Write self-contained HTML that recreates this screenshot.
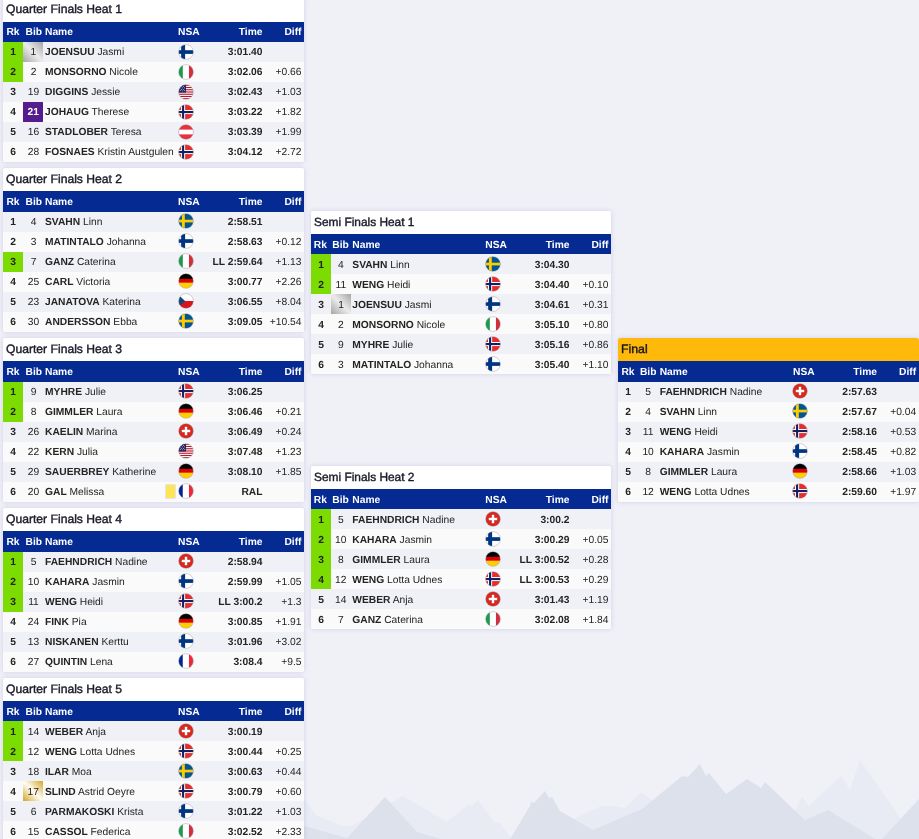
<!DOCTYPE html>
<html lang="en"><head><meta charset="utf-8"><title>Sprint Finals</title>
<style>
html,body{margin:0;padding:0}
body{width:919px;height:839px;overflow:hidden;position:relative;background:#f0f1f7;font-family:"Liberation Sans",Arial,sans-serif;font-size:10.25px;letter-spacing:0px;text-rendering:geometricPrecision;color:#242424}
.card{position:absolute;width:301px;background:#fff;border-radius:2px;box-shadow:0 0 5px rgba(125,125,195,.3);overflow:hidden;z-index:2}
.ttl{font-size:12.15px;letter-spacing:0;-webkit-text-stroke:.4px #1a1a2a;padding-left:3px;color:#1a1a2a;white-space:nowrap}
.lh22 .ttl{line-height:22px}
.lh23 .ttl{line-height:23px}
.semi{width:300px}
.semi .ttl{font-size:11.9px}
.final .ttl{font-size:12.3px}

.semi .nm{left:41.3px}
.semi .row .nsa{left:174.4px}
.semi .hd .nsa{left:174.3px}
.semi .bib{left:19.8px}
.semi .hd .bib{left:17.6px}
.semi .hd .rk{left:-.7px}
.semi .bib.silver{left:20px;padding-left:0}
.final .nm{left:41.7px}
.final .row .nsa{left:174.3px}
.final .bib{left:20.1px}
.final .hd .bib{left:18.2px}
.final .tm{right:42px}
.final .df{right:2.9px}
.final .ttl{background:#ffb90a;color:#111}
.hd{background:#052b93;color:#fff;font-weight:bold;font-size:10.25px;position:relative;white-space:nowrap}
.row{height:20px;line-height:var(--rl);position:relative;white-space:nowrap;background:#fafafa}
.row:nth-child(odd){background:#f0f1f7}
.row span,.hd span{position:absolute;top:0;height:100%}
.rk{left:0;width:20px;text-align:center;font-weight:bold}
.rk.q{background:#7cdb00}
.bib{left:20.5px;width:20px;text-align:center}
.hd .bib{left:18.75px;width:24px}
.bib.purple,.bib.silver,.bib.gold{left:20px;padding-left:.5px;box-sizing:border-box}
.bib.purple{background:#551c8e;color:#fff;font-weight:bold}
.bib.silver{background:linear-gradient(45deg,#a4a4a4 0%,#ececec 50%,#a4a4a4 100%)}
.bib.gold{background:linear-gradient(45deg,#d2a527 0%,#fffdf4 50%,#d2a527 100%)}
.nm{left:42px}
.nsa{left:175px;width:16px}
.row .nsa{left:175px;width:16px;top:var(--ft);height:16px;line-height:0}
.fl{width:16px;height:16px;display:block}
.tm{right:41.5px;font-weight:bold;text-align:right}
.df{right:2.5px;text-align:right}
.yc{position:absolute;left:162.9px;top:2.8px;width:9.4px;height:13.3px;background:#ffe455;box-shadow:0 0 0 .6px #d6d6e3}
</style></head><body>

<svg class="mt" width="919" height="839" viewBox="0 0 919 839" style="position:absolute;left:0;top:0">
<g fill="#e8ebf3">
<path d="M304 799 L316.5 815.6 L342.7 826 L352 826 L402.8 796 L446.5 821.5 L468.6 805 L472 806 L477.7 799.7 L495.6 823.6 L499 822.6 L512.5 839 L304 839Z"/>
<path d="M555 828 L573 819.3 L602 805.8 L610 805.6 L625 808 L641 792.8 L652 800 L670 839 L555 839Z"/>
<path d="M780 839 L802 797 L809 806 L841 776 L850 790 L860 760 L905 825 L919 839Z"/>
</g>
<g fill="#dde1ec">
<path d="M304 826 L347 838 L385 797 L417 832 L440 839 L304 839Z"/>
<path d="M510 839 L530 806 L531 802 L534 803 L545 791 L549 798 L552 797 L560 811 L593 830 L642 809 L682 776 L688 777 L700 764 L706 776 L709 773 L726 794 L747 779 L761 788 L765 782 L805 820 L828 810 L875 839Z"/>
<path d="M882 839 L919 799 L919 839Z"/>
</g>
</svg>


<svg width="0" height="0" style="position:absolute">
<defs>
<clipPath id="cc"><circle cx="8" cy="8" r="7.3"/></clipPath>
<g id="f-FIN" clip-path="url(#cc)"><rect width="16" height="16" fill="#fff"/><rect x="3.15" width="3.95" height="16" fill="#003580"/><rect y="6.2" width="16" height="3.7" fill="#003580"/></g>
<g id="f-SWE" clip-path="url(#cc)"><rect width="16" height="16" fill="#005596"/><rect x="3.9" width="2.9" height="16" fill="#fecc00"/><rect y="6.7" width="16" height="2.7" fill="#fecc00"/></g>
<g id="f-NOR" clip-path="url(#cc)"><rect width="16" height="16" fill="#e82b2b"/><rect x="3.05" width="4.1" height="16" fill="#fff"/><rect y="6" width="16" height="4.1" fill="#fff"/><rect x="4.05" width="2.1" height="16" fill="#0c2264"/><rect y="7" width="16" height="2.1" fill="#0c2264"/></g>
<g id="f-ITA" clip-path="url(#cc)"><rect width="16" height="16" fill="#fff"/><rect width="4.8" height="16" fill="#1a9a4a"/><rect x="10.95" width="5.2" height="16" fill="#d22f3c"/></g>
<g id="f-FRA" clip-path="url(#cc)"><rect width="16" height="16" fill="#fff"/><rect width="4.75" height="16" fill="#002395"/><rect x="10.95" width="5.2" height="16" fill="#ed2939"/></g>
<g id="f-GER" clip-path="url(#cc)"><rect width="16" height="6.2" fill="#000"/><rect y="9.4" width="16" height="6.6" fill="#ffce00"/><rect y="5.85" width="16" height="3.85" fill="#dd0000"/></g>
<g id="f-AUT" clip-path="url(#cc)"><rect width="16" height="16" fill="#e8323a"/><rect y="5.6" width="16" height="4.8" fill="#fff"/></g>
<g id="f-SUI" clip-path="url(#cc)"><rect width="16" height="16" fill="#d5281f"/><rect x="6.8" y="3.8" width="2.4" height="8.4" fill="#fff"/><rect x="3.8" y="6.8" width="8.4" height="2.4" fill="#fff"/></g>
<g id="f-CZE" clip-path="url(#cc)"><rect width="16" height="8" fill="#fff"/><rect y="8" width="16" height="8" fill="#d7141a"/><path d="M-1 0.6 L7.1 8 L-1 15.4Z" fill="#11457e"/></g>
<g id="f-USA" clip-path="url(#cc)"><rect width="16" height="16" fill="#fff"/><g fill="#b5172b"><rect y="0.70" width="16" height="1.12"/><rect y="2.95" width="16" height="1.12"/><rect y="5.19" width="16" height="1.12"/><rect y="7.44" width="16" height="1.12"/><rect y="9.68" width="16" height="1.12"/><rect y="11.93" width="16" height="1.12"/><rect y="14.18" width="16" height="1.12"/></g><rect width="8" height="8.56" fill="#232763"/><g fill="#fff"><rect x="3.25" y="2.05" width=".7" height=".7"/><rect x="5.25" y="2.05" width=".7" height=".7"/><rect x="4.25" y="3.55" width=".7" height=".7"/><rect x="2.25" y="3.55" width=".7" height=".7"/><rect x="3.25" y="5.05" width=".7" height=".7"/><rect x="5.25" y="5.05" width=".7" height=".7"/><rect x="2.25" y="6.25" width=".7" height=".7"/><rect x="4.25" y="6.45" width=".7" height=".7"/><rect x="6.25" y="3.55" width=".7" height=".7"/><rect x="6.25" y="6.25" width=".7" height=".7"/></g></g>
</defs>
</svg>

<div class="card lh22" style="left:3px;top:-2px;--rl:22px;--ft:1.9px">
<div class="ttl" style="height:24px">Quarter Finals Heat 1</div>
<div class="hd" style="height:20px;line-height:21px"><span class="rk">Rk</span><span class="bib">Bib</span><span class="nm">Name</span><span class="nsa">NSA</span><span class="tm">Time</span><span class="df">Diff</span></div>
<div class="row"><span class="rk q">1</span><span class="bib silver">1</span><span class="nm"><b>JOENSUU</b> Jasmi</span><span class="nsa"><svg class="fl" viewBox="0 0 16 16"><use href="#f-FIN"/><circle cx="8" cy="8" r="7.4" fill="none" stroke="rgba(150,152,160,.6)" stroke-width=".7"/></svg></span><span class="tm">3:01.40</span><span class="df"></span></div>
<div class="row"><span class="rk q">2</span><span class="bib">2</span><span class="nm"><b>MONSORNO</b> Nicole</span><span class="nsa"><svg class="fl" viewBox="0 0 16 16"><use href="#f-ITA"/><circle cx="8" cy="8" r="7.4" fill="none" stroke="rgba(150,152,160,.6)" stroke-width=".7"/></svg></span><span class="tm">3:02.06</span><span class="df">+0.66</span></div>
<div class="row"><span class="rk">3</span><span class="bib">19</span><span class="nm"><b>DIGGINS</b> Jessie</span><span class="nsa"><svg class="fl" viewBox="0 0 16 16"><use href="#f-USA"/><circle cx="8" cy="8" r="7.4" fill="none" stroke="rgba(150,152,160,.6)" stroke-width=".7"/></svg></span><span class="tm">3:02.43</span><span class="df">+1.03</span></div>
<div class="row"><span class="rk">4</span><span class="bib purple">21</span><span class="nm"><b>JOHAUG</b> Therese</span><span class="nsa"><svg class="fl" viewBox="0 0 16 16"><use href="#f-NOR"/><circle cx="8" cy="8" r="7.4" fill="none" stroke="rgba(150,152,160,.6)" stroke-width=".7"/></svg></span><span class="tm">3:03.22</span><span class="df">+1.82</span></div>
<div class="row"><span class="rk">5</span><span class="bib">16</span><span class="nm"><b>STADLOBER</b> Teresa</span><span class="nsa"><svg class="fl" viewBox="0 0 16 16"><use href="#f-AUT"/><circle cx="8" cy="8" r="7.4" fill="none" stroke="rgba(150,152,160,.6)" stroke-width=".7"/></svg></span><span class="tm">3:03.39</span><span class="df">+1.99</span></div>
<div class="row"><span class="rk">6</span><span class="bib">28</span><span class="nm"><b>FOSNAES</b> Kristin Austgulen</span><span class="nsa"><svg class="fl" viewBox="0 0 16 16"><use href="#f-NOR"/><circle cx="8" cy="8" r="7.4" fill="none" stroke="rgba(150,152,160,.6)" stroke-width=".7"/></svg></span><span class="tm">3:04.12</span><span class="df">+2.72</span></div>
</div>
<div class="card lh22" style="left:3px;top:168px;--rl:22px;--ft:0.9px">
<div class="ttl" style="height:23px">Quarter Finals Heat 2</div>
<div class="hd" style="height:21px;line-height:24px"><span class="rk">Rk</span><span class="bib">Bib</span><span class="nm">Name</span><span class="nsa">NSA</span><span class="tm">Time</span><span class="df">Diff</span></div>
<div class="row"><span class="rk">1</span><span class="bib">4</span><span class="nm"><b>SVAHN</b> Linn</span><span class="nsa"><svg class="fl" viewBox="0 0 16 16"><use href="#f-SWE"/><circle cx="8" cy="8" r="7.4" fill="none" stroke="rgba(150,152,160,.6)" stroke-width=".7"/></svg></span><span class="tm">2:58.51</span><span class="df"></span></div>
<div class="row"><span class="rk">2</span><span class="bib">3</span><span class="nm"><b>MATINTALO</b> Johanna</span><span class="nsa"><svg class="fl" viewBox="0 0 16 16"><use href="#f-FIN"/><circle cx="8" cy="8" r="7.4" fill="none" stroke="rgba(150,152,160,.6)" stroke-width=".7"/></svg></span><span class="tm">2:58.63</span><span class="df">+0.12</span></div>
<div class="row"><span class="rk q">3</span><span class="bib">7</span><span class="nm"><b>GANZ</b> Caterina</span><span class="nsa"><svg class="fl" viewBox="0 0 16 16"><use href="#f-ITA"/><circle cx="8" cy="8" r="7.4" fill="none" stroke="rgba(150,152,160,.6)" stroke-width=".7"/></svg></span><span class="tm">LL 2:59.64</span><span class="df">+1.13</span></div>
<div class="row"><span class="rk">4</span><span class="bib">25</span><span class="nm"><b>CARL</b> Victoria</span><span class="nsa"><svg class="fl" viewBox="0 0 16 16"><use href="#f-GER"/><circle cx="8" cy="8" r="7.4" fill="none" stroke="rgba(150,152,160,.6)" stroke-width=".7"/></svg></span><span class="tm">3:00.77</span><span class="df">+2.26</span></div>
<div class="row"><span class="rk">5</span><span class="bib">23</span><span class="nm"><b>JANATOVA</b> Katerina</span><span class="nsa"><svg class="fl" viewBox="0 0 16 16"><use href="#f-CZE"/><circle cx="8" cy="8" r="7.4" fill="none" stroke="rgba(150,152,160,.6)" stroke-width=".7"/></svg></span><span class="tm">3:06.55</span><span class="df">+8.04</span></div>
<div class="row"><span class="rk">6</span><span class="bib">30</span><span class="nm"><b>ANDERSSON</b> Ebba</span><span class="nsa"><svg class="fl" viewBox="0 0 16 16"><use href="#f-SWE"/><circle cx="8" cy="8" r="7.4" fill="none" stroke="rgba(150,152,160,.6)" stroke-width=".7"/></svg></span><span class="tm">3:09.05</span><span class="df">+10.54</span></div>
</div>
<div class="card lh22" style="left:3px;top:338px;--rl:22px;--ft:1.0px">
<div class="ttl" style="height:23px">Quarter Finals Heat 3</div>
<div class="hd" style="height:21px;line-height:24px"><span class="rk">Rk</span><span class="bib">Bib</span><span class="nm">Name</span><span class="nsa">NSA</span><span class="tm">Time</span><span class="df">Diff</span></div>
<div class="row"><span class="rk q">1</span><span class="bib">9</span><span class="nm"><b>MYHRE</b> Julie</span><span class="nsa"><svg class="fl" viewBox="0 0 16 16"><use href="#f-NOR"/><circle cx="8" cy="8" r="7.4" fill="none" stroke="rgba(150,152,160,.6)" stroke-width=".7"/></svg></span><span class="tm">3:06.25</span><span class="df"></span></div>
<div class="row"><span class="rk q">2</span><span class="bib">8</span><span class="nm"><b>GIMMLER</b> Laura</span><span class="nsa"><svg class="fl" viewBox="0 0 16 16"><use href="#f-GER"/><circle cx="8" cy="8" r="7.4" fill="none" stroke="rgba(150,152,160,.6)" stroke-width=".7"/></svg></span><span class="tm">3:06.46</span><span class="df">+0.21</span></div>
<div class="row"><span class="rk">3</span><span class="bib">26</span><span class="nm"><b>KAELIN</b> Marina</span><span class="nsa"><svg class="fl" viewBox="0 0 16 16"><use href="#f-SUI"/><circle cx="8" cy="8" r="7.4" fill="none" stroke="rgba(150,152,160,.6)" stroke-width=".7"/></svg></span><span class="tm">3:06.49</span><span class="df">+0.24</span></div>
<div class="row"><span class="rk">4</span><span class="bib">22</span><span class="nm"><b>KERN</b> Julia</span><span class="nsa"><svg class="fl" viewBox="0 0 16 16"><use href="#f-USA"/><circle cx="8" cy="8" r="7.4" fill="none" stroke="rgba(150,152,160,.6)" stroke-width=".7"/></svg></span><span class="tm">3:07.48</span><span class="df">+1.23</span></div>
<div class="row"><span class="rk">5</span><span class="bib">29</span><span class="nm"><b>SAUERBREY</b> Katherine</span><span class="nsa"><svg class="fl" viewBox="0 0 16 16"><use href="#f-GER"/><circle cx="8" cy="8" r="7.4" fill="none" stroke="rgba(150,152,160,.6)" stroke-width=".7"/></svg></span><span class="tm">3:08.10</span><span class="df">+1.85</span></div>
<div class="row"><span class="rk">6</span><span class="bib">20</span><span class="nm"><b>GAL</b> Melissa</span><i class="yc"></i><span class="nsa"><svg class="fl" viewBox="0 0 16 16"><use href="#f-FRA"/><circle cx="8" cy="8" r="7.4" fill="none" stroke="rgba(150,152,160,.6)" stroke-width=".7"/></svg></span><span class="tm">RAL</span><span class="df"></span></div>
</div>
<div class="card lh22" style="left:3px;top:508px;--rl:22px;--ft:1.1px">
<div class="ttl" style="height:23px">Quarter Finals Heat 4</div>
<div class="hd" style="height:21px;line-height:23px"><span class="rk">Rk</span><span class="bib">Bib</span><span class="nm">Name</span><span class="nsa">NSA</span><span class="tm">Time</span><span class="df">Diff</span></div>
<div class="row"><span class="rk q">1</span><span class="bib">5</span><span class="nm"><b>FAEHNDRICH</b> Nadine</span><span class="nsa"><svg class="fl" viewBox="0 0 16 16"><use href="#f-SUI"/><circle cx="8" cy="8" r="7.4" fill="none" stroke="rgba(150,152,160,.6)" stroke-width=".7"/></svg></span><span class="tm">2:58.94</span><span class="df"></span></div>
<div class="row"><span class="rk q">2</span><span class="bib">10</span><span class="nm"><b>KAHARA</b> Jasmin</span><span class="nsa"><svg class="fl" viewBox="0 0 16 16"><use href="#f-FIN"/><circle cx="8" cy="8" r="7.4" fill="none" stroke="rgba(150,152,160,.6)" stroke-width=".7"/></svg></span><span class="tm">2:59.99</span><span class="df">+1.05</span></div>
<div class="row"><span class="rk q">3</span><span class="bib">11</span><span class="nm"><b>WENG</b> Heidi</span><span class="nsa"><svg class="fl" viewBox="0 0 16 16"><use href="#f-NOR"/><circle cx="8" cy="8" r="7.4" fill="none" stroke="rgba(150,152,160,.6)" stroke-width=".7"/></svg></span><span class="tm">LL 3:00.2</span><span class="df">+1.3</span></div>
<div class="row"><span class="rk">4</span><span class="bib">24</span><span class="nm"><b>FINK</b> Pia</span><span class="nsa"><svg class="fl" viewBox="0 0 16 16"><use href="#f-GER"/><circle cx="8" cy="8" r="7.4" fill="none" stroke="rgba(150,152,160,.6)" stroke-width=".7"/></svg></span><span class="tm">3:00.85</span><span class="df">+1.91</span></div>
<div class="row"><span class="rk">5</span><span class="bib">13</span><span class="nm"><b>NISKANEN</b> Kerttu</span><span class="nsa"><svg class="fl" viewBox="0 0 16 16"><use href="#f-FIN"/><circle cx="8" cy="8" r="7.4" fill="none" stroke="rgba(150,152,160,.6)" stroke-width=".7"/></svg></span><span class="tm">3:01.96</span><span class="df">+3.02</span></div>
<div class="row"><span class="rk">6</span><span class="bib">27</span><span class="nm"><b>QUINTIN</b> Lena</span><span class="nsa"><svg class="fl" viewBox="0 0 16 16"><use href="#f-FRA"/><circle cx="8" cy="8" r="7.4" fill="none" stroke="rgba(150,152,160,.6)" stroke-width=".7"/></svg></span><span class="tm">3:08.4</span><span class="df">+9.5</span></div>
</div>
<div class="card lh22" style="left:3px;top:678px;--rl:24px;--ft:2.0px">
<div class="ttl" style="height:23px">Quarter Finals Heat 5</div>
<div class="hd" style="height:20px;line-height:23px"><span class="rk">Rk</span><span class="bib">Bib</span><span class="nm">Name</span><span class="nsa">NSA</span><span class="tm">Time</span><span class="df">Diff</span></div>
<div class="row"><span class="rk q">1</span><span class="bib">14</span><span class="nm"><b>WEBER</b> Anja</span><span class="nsa"><svg class="fl" viewBox="0 0 16 16"><use href="#f-SUI"/><circle cx="8" cy="8" r="7.4" fill="none" stroke="rgba(150,152,160,.6)" stroke-width=".7"/></svg></span><span class="tm">3:00.19</span><span class="df"></span></div>
<div class="row"><span class="rk q">2</span><span class="bib">12</span><span class="nm"><b>WENG</b> Lotta Udnes</span><span class="nsa"><svg class="fl" viewBox="0 0 16 16"><use href="#f-NOR"/><circle cx="8" cy="8" r="7.4" fill="none" stroke="rgba(150,152,160,.6)" stroke-width=".7"/></svg></span><span class="tm">3:00.44</span><span class="df">+0.25</span></div>
<div class="row"><span class="rk">3</span><span class="bib">18</span><span class="nm"><b>ILAR</b> Moa</span><span class="nsa"><svg class="fl" viewBox="0 0 16 16"><use href="#f-SWE"/><circle cx="8" cy="8" r="7.4" fill="none" stroke="rgba(150,152,160,.6)" stroke-width=".7"/></svg></span><span class="tm">3:00.63</span><span class="df">+0.44</span></div>
<div class="row"><span class="rk">4</span><span class="bib gold">17</span><span class="nm"><b>SLIND</b> Astrid Oeyre</span><span class="nsa"><svg class="fl" viewBox="0 0 16 16"><use href="#f-NOR"/><circle cx="8" cy="8" r="7.4" fill="none" stroke="rgba(150,152,160,.6)" stroke-width=".7"/></svg></span><span class="tm">3:00.79</span><span class="df">+0.60</span></div>
<div class="row"><span class="rk">5</span><span class="bib">6</span><span class="nm"><b>PARMAKOSKI</b> Krista</span><span class="nsa"><svg class="fl" viewBox="0 0 16 16"><use href="#f-FIN"/><circle cx="8" cy="8" r="7.4" fill="none" stroke="rgba(150,152,160,.6)" stroke-width=".7"/></svg></span><span class="tm">3:01.22</span><span class="df">+1.03</span></div>
<div class="row"><span class="rk">6</span><span class="bib">15</span><span class="nm"><b>CASSOL</b> Federica</span><span class="nsa"><svg class="fl" viewBox="0 0 16 16"><use href="#f-ITA"/><circle cx="8" cy="8" r="7.4" fill="none" stroke="rgba(150,152,160,.6)" stroke-width=".7"/></svg></span><span class="tm">3:02.52</span><span class="df">+2.33</span></div>
</div>
<div class="card semi lh23" style="left:311px;top:211px;--rl:24px;--ft:1.8px">
<div class="ttl" style="height:23px">Semi Finals Heat 1</div>
<div class="hd" style="height:20px;line-height:23px"><span class="rk">Rk</span><span class="bib">Bib</span><span class="nm">Name</span><span class="nsa">NSA</span><span class="tm">Time</span><span class="df">Diff</span></div>
<div class="row"><span class="rk q">1</span><span class="bib">4</span><span class="nm"><b>SVAHN</b> Linn</span><span class="nsa"><svg class="fl" viewBox="0 0 16 16"><use href="#f-SWE"/><circle cx="8" cy="8" r="7.4" fill="none" stroke="rgba(150,152,160,.6)" stroke-width=".7"/></svg></span><span class="tm">3:04.30</span><span class="df"></span></div>
<div class="row"><span class="rk q">2</span><span class="bib">11</span><span class="nm"><b>WENG</b> Heidi</span><span class="nsa"><svg class="fl" viewBox="0 0 16 16"><use href="#f-NOR"/><circle cx="8" cy="8" r="7.4" fill="none" stroke="rgba(150,152,160,.6)" stroke-width=".7"/></svg></span><span class="tm">3:04.40</span><span class="df">+0.10</span></div>
<div class="row"><span class="rk">3</span><span class="bib silver">1</span><span class="nm"><b>JOENSUU</b> Jasmi</span><span class="nsa"><svg class="fl" viewBox="0 0 16 16"><use href="#f-FIN"/><circle cx="8" cy="8" r="7.4" fill="none" stroke="rgba(150,152,160,.6)" stroke-width=".7"/></svg></span><span class="tm">3:04.61</span><span class="df">+0.31</span></div>
<div class="row"><span class="rk">4</span><span class="bib">2</span><span class="nm"><b>MONSORNO</b> Nicole</span><span class="nsa"><svg class="fl" viewBox="0 0 16 16"><use href="#f-ITA"/><circle cx="8" cy="8" r="7.4" fill="none" stroke="rgba(150,152,160,.6)" stroke-width=".7"/></svg></span><span class="tm">3:05.10</span><span class="df">+0.80</span></div>
<div class="row"><span class="rk">5</span><span class="bib">9</span><span class="nm"><b>MYHRE</b> Julie</span><span class="nsa"><svg class="fl" viewBox="0 0 16 16"><use href="#f-NOR"/><circle cx="8" cy="8" r="7.4" fill="none" stroke="rgba(150,152,160,.6)" stroke-width=".7"/></svg></span><span class="tm">3:05.16</span><span class="df">+0.86</span></div>
<div class="row"><span class="rk">6</span><span class="bib">3</span><span class="nm"><b>MATINTALO</b> Johanna</span><span class="nsa"><svg class="fl" viewBox="0 0 16 16"><use href="#f-FIN"/><circle cx="8" cy="8" r="7.4" fill="none" stroke="rgba(150,152,160,.6)" stroke-width=".7"/></svg></span><span class="tm">3:05.40</span><span class="df">+1.10</span></div>
</div>
<div class="card semi lh23" style="left:311px;top:466px;--rl:24px;--ft:1.8px">
<div class="ttl" style="height:23px">Semi Finals Heat 2</div>
<div class="hd" style="height:20px;line-height:23px"><span class="rk">Rk</span><span class="bib">Bib</span><span class="nm">Name</span><span class="nsa">NSA</span><span class="tm">Time</span><span class="df">Diff</span></div>
<div class="row"><span class="rk q">1</span><span class="bib">5</span><span class="nm"><b>FAEHNDRICH</b> Nadine</span><span class="nsa"><svg class="fl" viewBox="0 0 16 16"><use href="#f-SUI"/><circle cx="8" cy="8" r="7.4" fill="none" stroke="rgba(150,152,160,.6)" stroke-width=".7"/></svg></span><span class="tm">3:00.2</span><span class="df"></span></div>
<div class="row"><span class="rk q">2</span><span class="bib">10</span><span class="nm"><b>KAHARA</b> Jasmin</span><span class="nsa"><svg class="fl" viewBox="0 0 16 16"><use href="#f-FIN"/><circle cx="8" cy="8" r="7.4" fill="none" stroke="rgba(150,152,160,.6)" stroke-width=".7"/></svg></span><span class="tm">3:00.29</span><span class="df">+0.05</span></div>
<div class="row"><span class="rk q">3</span><span class="bib">8</span><span class="nm"><b>GIMMLER</b> Laura</span><span class="nsa"><svg class="fl" viewBox="0 0 16 16"><use href="#f-GER"/><circle cx="8" cy="8" r="7.4" fill="none" stroke="rgba(150,152,160,.6)" stroke-width=".7"/></svg></span><span class="tm">LL 3:00.52</span><span class="df">+0.28</span></div>
<div class="row"><span class="rk q">4</span><span class="bib">12</span><span class="nm"><b>WENG</b> Lotta Udnes</span><span class="nsa"><svg class="fl" viewBox="0 0 16 16"><use href="#f-NOR"/><circle cx="8" cy="8" r="7.4" fill="none" stroke="rgba(150,152,160,.6)" stroke-width=".7"/></svg></span><span class="tm">LL 3:00.53</span><span class="df">+0.29</span></div>
<div class="row"><span class="rk">5</span><span class="bib">14</span><span class="nm"><b>WEBER</b> Anja</span><span class="nsa"><svg class="fl" viewBox="0 0 16 16"><use href="#f-SUI"/><circle cx="8" cy="8" r="7.4" fill="none" stroke="rgba(150,152,160,.6)" stroke-width=".7"/></svg></span><span class="tm">3:01.43</span><span class="df">+1.19</span></div>
<div class="row"><span class="rk">6</span><span class="bib">7</span><span class="nm"><b>GANZ</b> Caterina</span><span class="nsa"><svg class="fl" viewBox="0 0 16 16"><use href="#f-ITA"/><circle cx="8" cy="8" r="7.4" fill="none" stroke="rgba(150,152,160,.6)" stroke-width=".7"/></svg></span><span class="tm">3:02.08</span><span class="df">+1.84</span></div>
</div>
<div class="card final lh23" style="left:618px;top:338px;--rl:22.6px;--ft:1.2px">
<div class="ttl" style="height:23px">Final</div>
<div class="hd" style="height:21px;line-height:24px"><span class="rk">Rk</span><span class="bib">Bib</span><span class="nm">Name</span><span class="nsa">NSA</span><span class="tm">Time</span><span class="df">Diff</span></div>
<div class="row"><span class="rk">1</span><span class="bib">5</span><span class="nm"><b>FAEHNDRICH</b> Nadine</span><span class="nsa"><svg class="fl" viewBox="0 0 16 16"><use href="#f-SUI"/><circle cx="8" cy="8" r="7.4" fill="none" stroke="rgba(150,152,160,.6)" stroke-width=".7"/></svg></span><span class="tm">2:57.63</span><span class="df"></span></div>
<div class="row"><span class="rk">2</span><span class="bib">4</span><span class="nm"><b>SVAHN</b> Linn</span><span class="nsa"><svg class="fl" viewBox="0 0 16 16"><use href="#f-SWE"/><circle cx="8" cy="8" r="7.4" fill="none" stroke="rgba(150,152,160,.6)" stroke-width=".7"/></svg></span><span class="tm">2:57.67</span><span class="df">+0.04</span></div>
<div class="row"><span class="rk">3</span><span class="bib">11</span><span class="nm"><b>WENG</b> Heidi</span><span class="nsa"><svg class="fl" viewBox="0 0 16 16"><use href="#f-NOR"/><circle cx="8" cy="8" r="7.4" fill="none" stroke="rgba(150,152,160,.6)" stroke-width=".7"/></svg></span><span class="tm">2:58.16</span><span class="df">+0.53</span></div>
<div class="row"><span class="rk">4</span><span class="bib">10</span><span class="nm"><b>KAHARA</b> Jasmin</span><span class="nsa"><svg class="fl" viewBox="0 0 16 16"><use href="#f-FIN"/><circle cx="8" cy="8" r="7.4" fill="none" stroke="rgba(150,152,160,.6)" stroke-width=".7"/></svg></span><span class="tm">2:58.45</span><span class="df">+0.82</span></div>
<div class="row"><span class="rk">5</span><span class="bib">8</span><span class="nm"><b>GIMMLER</b> Laura</span><span class="nsa"><svg class="fl" viewBox="0 0 16 16"><use href="#f-GER"/><circle cx="8" cy="8" r="7.4" fill="none" stroke="rgba(150,152,160,.6)" stroke-width=".7"/></svg></span><span class="tm">2:58.66</span><span class="df">+1.03</span></div>
<div class="row"><span class="rk">6</span><span class="bib">12</span><span class="nm"><b>WENG</b> Lotta Udnes</span><span class="nsa"><svg class="fl" viewBox="0 0 16 16"><use href="#f-NOR"/><circle cx="8" cy="8" r="7.4" fill="none" stroke="rgba(150,152,160,.6)" stroke-width=".7"/></svg></span><span class="tm">2:59.60</span><span class="df">+1.97</span></div>
</div>
</body></html>
